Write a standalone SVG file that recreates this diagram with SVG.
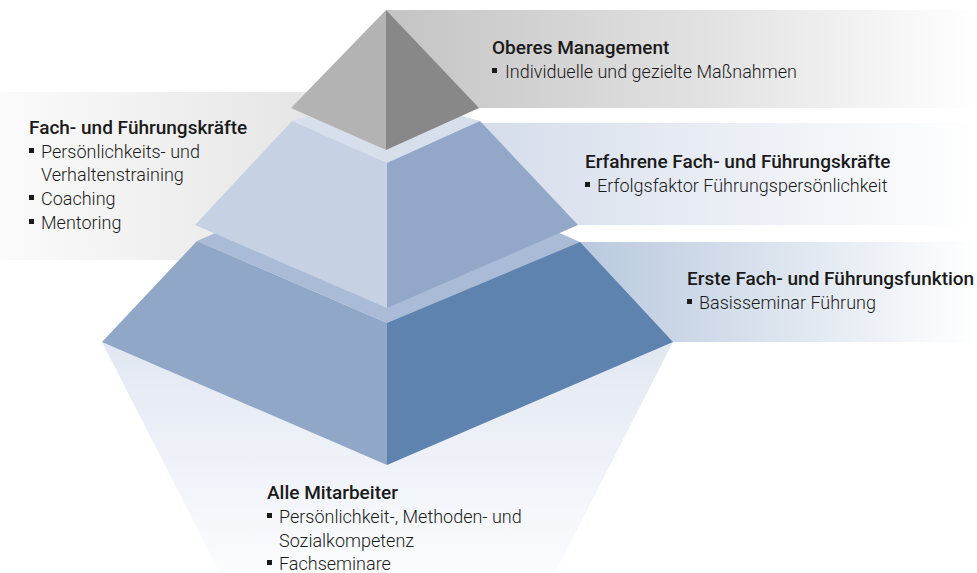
<svg xmlns="http://www.w3.org/2000/svg" width="977" height="573" viewBox="0 0 977 573">
  <defs>
    <linearGradient id="gGray" x1="386" y1="0" x2="977" y2="0" gradientUnits="userSpaceOnUse">
      <stop offset="0" stop-color="#c4c4c4"/>
      <stop offset="0.55" stop-color="#e2e2e2"/>
      <stop offset="1" stop-color="#ffffff"/>
    </linearGradient>
    <linearGradient id="gLeft" x1="0" y1="0" x2="300" y2="0" gradientUnits="userSpaceOnUse">
      <stop offset="0" stop-color="#fbfbfb"/>
      <stop offset="1" stop-color="#e6e6e6"/>
    </linearGradient>
    <linearGradient id="gBlue1" x1="480" y1="0" x2="977" y2="0" gradientUnits="userSpaceOnUse">
      <stop offset="0" stop-color="#d5ddeb"/>
      <stop offset="1" stop-color="#ffffff"/>
    </linearGradient>
    <linearGradient id="gBlue2" x1="580" y1="0" x2="977" y2="0" gradientUnits="userSpaceOnUse">
      <stop offset="0" stop-color="#b9c9de"/>
      <stop offset="1" stop-color="#ffffff"/>
    </linearGradient>
    <linearGradient id="gBase" x1="0" y1="342" x2="0" y2="573" gradientUnits="userSpaceOnUse">
      <stop offset="0" stop-color="#e1e7f2"/>
      <stop offset="1" stop-color="#fbfcfe"/>
    </linearGradient>
  </defs>
  <style>
    .title { font-family: Roboto, "Liberation Sans", sans-serif; font-weight: 500; font-size: 19px; fill: #1a1a1a; }
    .item { font-family: Roboto, "Liberation Sans", sans-serif; font-weight: 300; font-size: 18px; fill: #1a1a1a; }
    .bullet { fill: #1a1a1a; }
  </style>

  <rect width="977" height="573" fill="#ffffff"/>

  <!-- level 1: top management -->
  <g id="level-top">
    <rect x="386" y="10" width="591" height="98" fill="url(#gGray)"/>
    <text class="title" x="492" y="54">Oberes Management</text>
    <rect class="bullet" x="492" y="68" width="5" height="5"/>
    <text class="item" x="505" y="78">Individuelle und gezielte Maßnahmen</text>
  </g>

  <!-- level 2: managers (left side) -->
  <g id="level-managers">
    <rect x="0" y="92" width="386" height="168" fill="url(#gLeft)"/>
    <text class="title" x="29" y="134">Fach- und Führungskräfte</text>
    <rect class="bullet" x="29" y="148" width="5" height="5"/>
    <text class="item" x="41" y="158">Persönlichkeits- und</text>
    <text class="item" x="41" y="181">Verhaltenstraining</text>
    <rect class="bullet" x="29" y="195" width="5" height="5"/>
    <text class="item" x="41" y="205">Coaching</text>
    <rect class="bullet" x="29" y="219" width="5" height="5"/>
    <text class="item" x="41" y="229">Mentoring</text>
  </g>

  <!-- level 2: experienced managers (right side) -->
  <g id="level-experienced">
    <rect x="386" y="123" width="591" height="102" fill="url(#gBlue1)"/>
    <text class="title" x="585" y="168">Erfahrene Fach- und Führungskräfte</text>
    <rect class="bullet" x="585" y="182" width="5" height="5"/>
    <text class="item" x="597" y="192">Erfolgsfaktor Führungspersönlichkeit</text>
  </g>

  <!-- level 3: first leadership role -->
  <g id="level-first">
    <rect x="386" y="242" width="591" height="100" fill="url(#gBlue2)"/>
    <text class="title" x="687" y="285">Erste Fach- und Führungsfunktion</text>
    <rect class="bullet" x="687" y="299" width="5" height="5"/>
    <text class="item" x="699" y="309">Basisseminar Führung</text>
  </g>

  <!-- base: all employees -->
  <g id="level-all">
    <polygon points="102,342 673,342 555,573 220,573" fill="url(#gBase)"/>
    <text class="title" x="267" y="499">Alle Mitarbeiter</text>
    <rect class="bullet" x="267" y="513" width="5" height="5"/>
    <text class="item" x="279" y="523">Persönlichkeit-, Methoden- und</text>
    <text class="item" x="279" y="547">Sozialkompetenz</text>
    <rect class="bullet" x="267" y="560" width="5" height="5"/>
    <text class="item" x="279" y="570">Fachseminare</text>
  </g>

  <!-- pyramid, drawn from the bottom tier upwards -->
  <g id="pyramid-tier3">
    <polygon points="197,241 387,157 580,242 387,323" fill="#a9bbd7"/>
    <polygon points="197,241 387,323 387,465 102,342" fill="#91a7c8"/>
    <polygon points="580,242 673,342 387,465 387,323" fill="#5e83af"/>
  </g>
  <g id="pyramid-tier2">
    <polygon points="292,121 386,95 480,121 387,163" fill="#d7dfec"/>
    <polygon points="292,121 387,163 387,308 195,225" fill="#c6d2e4"/>
    <polygon points="480,121 578,225 387,308 387,163" fill="#93a8c8"/>
  </g>
  <g id="pyramid-top">
    <polygon points="386,10 386,150 291,108" fill="#b3b3b3"/>
    <polygon points="386,10 479,108 386,150" fill="#888888"/>
  </g>
</svg>
